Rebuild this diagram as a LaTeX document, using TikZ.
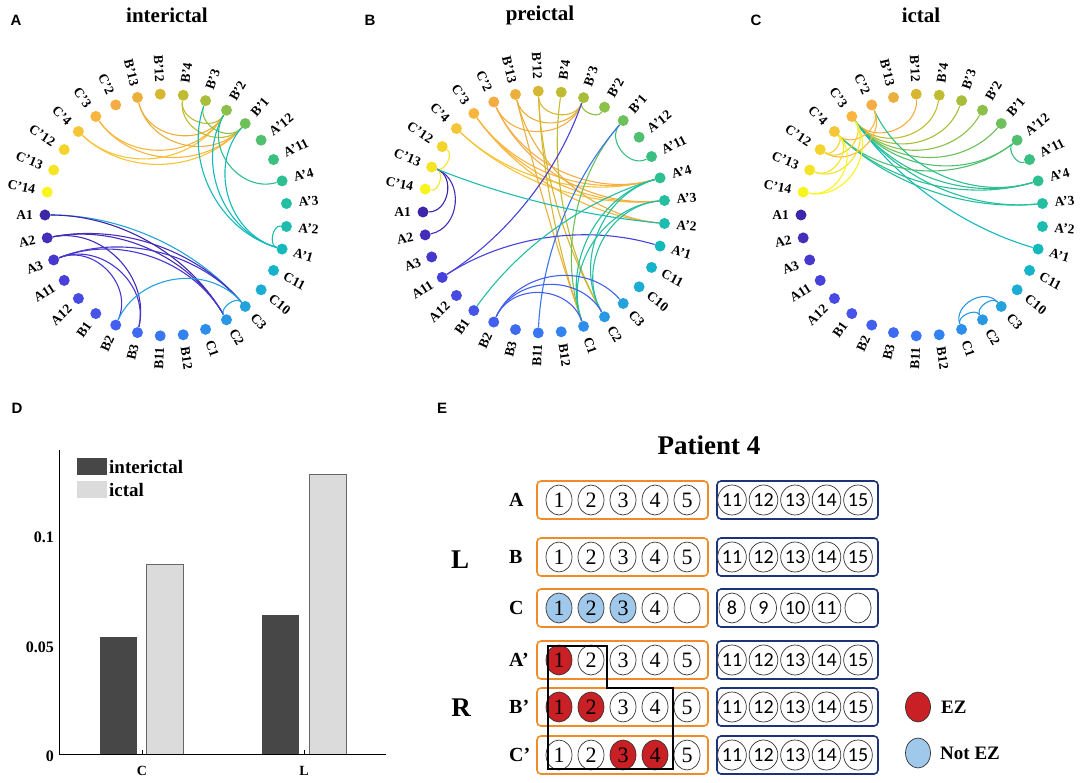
\documentclass[tikz,border=0pt]{standalone}
\usepackage{fontspec}
\setmainfont{Liberation Serif}
\newfontfamily\arialf{Liberation Sans}
\newfontfamily\calib{Carlito}
\usetikzlibrary{calc,backgrounds,shapes.geometric}

% parula-like colours of the 33 contacts
\foreach \k/\r/\g/\b in {0/62/38/168,1/66/46/185,2/70/55/205,3/72/64/218,4/72/74/228,
  5/70/84/234,6/67/95/240,7/62/106/242,8/56/118/242,9/50/130/240,10/45/142/235,
  11/40/152/228,12/35/162/220,13/28/172/212,14/22/180/200,15/20/185/188,16/28/188/175,
  17/36/190/160,18/45/190/145,19/58/191/130,20/80/192/112,21/110/192/90,22/140/192/72,
  23/168/190/58,24/192/188/50,25/215/183/50,26/235/176/60,27/246/172/68,28/248/182/62,
  29/246/196/55,30/242/212/45,31/245/228/38,32/248/244/30}{%
  \edef\tmp{\noexpand\xglobal\noexpand\definecolor{p\k}{RGB}{\r,\g,\b}}\tmp}
\definecolor{ezred}{RGB}{200,32,36}
\definecolor{nezblue}{RGB}{160,200,235}
\definecolor{eorange}{RGB}{240,140,40}
\definecolor{enavy}{RGB}{30,50,120}

% link of the circular graph: panel, contact, contact, colour
\newcommand{\lnk}[4]{%
  \pgfmathtruncatemacro{\lkn}{abs(#2-#3)}%
  \pgfmathtruncatemacro{\lkn}{min(\lkn,33-\lkn)}%
  \pgfmathsetmacro{\lkd}{min(\lkn*360/33,176)}%
  \pgfmathsetmacro{\lkc}{4/3*tan((180-\lkd)/4)*121*tan(\lkd/2)}%
  \draw[lk,p#4] (#1#2) .. controls ($(#1#2)!\lkc pt!(#1o)$) and ($(#1#3)!\lkc pt!(#1o)$) .. (#1#3);}

\begin{document}
\begin{tikzpicture}[x=1pt,y=-1pt,
  dot/.style={circle,inner sep=0pt,minimum size=11pt},
  lab/.style={inner sep=0pt,font=\fontsize{13.5}{14}\selectfont\bfseries},
  lk/.style={line width=1.1pt},
  ttl/.style={font=\fontsize{21}{22}\selectfont\bfseries},
  pnl/.style={font=\fontsize{15}{16}\selectfont\arialf\bfseries},
  tick/.style={inner sep=1pt,font=\fontsize{16}{16}\selectfont\bfseries},
  leg/.style={inner sep=0pt,font=\fontsize{19}{19}\selectfont\bfseries},
  elec/.style={ellipse,draw=black!80,line width=.7pt,fill=white,inner sep=0pt,
    minimum width=26pt,minimum height=30pt,font=\fontsize{22}{22}\selectfont},
  elw/.style={},
  elez/.style={fill=ezred},
  elnot/.style={fill=nezblue},
  obox/.style={draw=eorange,line width=1.6pt,rounded corners=4pt},
  bbox/.style={draw=enavy,line width=1.6pt,rounded corners=4pt}]
\useasboundingbox (0,0) rectangle (1084,783);

% circular graphs
\foreach \p/\cx/\cy in {a/166/215,b/544/212,c/922/215}{
  \coordinate (\p o) at (\cx,\cy);
  \foreach \k/\lab in {0/A1,1/A2,2/A3,3/A11,4/A12,5/B1,6/B2,7/B3,8/B11,9/B12,10/C1,
    11/C2,12/C3,13/C10,14/C11,15/A'1,16/A'2,17/A'3,18/A'4,19/A'11,20/A'12,21/B'1,
    22/B'2,23/B'3,24/B'4,25/B'12,26/B'13,27/C'2,28/C'3,29/C'4,30/C'12,31/C'13,32/C'14}{
    \pgfmathsetmacro\t{180+\k*360/33}
    \node[dot,fill=p\k] (\p\k) at ($(\p o)+(-\t:121)$) {};
    \pgfmathtruncatemacro\rs{(\k>8)&&(\k<25)}
    \ifnum\rs=1
      \node[lab,rotate=\t,anchor=west] at ($(\p o)+(-\t:133)$) {\lab};
    \else
      \node[lab,rotate=\t+180,anchor=east] at ($(\p o)+(-\t:133)$) {\lab};
    \fi
  }
}
\begin{pgfonlayer}{background}
\foreach \i/\j/\c in {29/21/29,29/22/29,28/21/28,28/22/28,26/21/26,26/22/26,24/22/24,
  24/21/24,23/21/22,23/15/15,22/15/15,21/15/15,22/18/18,16/15/16,0/12/12,0/11/0,1/12/1,
  1/11/1,1/7/1,2/6/2,2/7/2,2/11/2,2/12/2,6/12/12,11/12/12}{\lnk{a}{\i}{\j}{\c}}
\foreach \i/\j/\c in {29/18/29,29/17/29,28/18/28,28/17/28,28/16/28,27/17/27,27/18/27,
  26/16/26,26/23/26,27/23/27,25/23/25,25/10/25,25/11/25,24/11/24,26/10/26,31/30/31,
  31/32/31,23/22/22,21/19/19,21/10/21,23/3/3,3/15/3,21/8/8,31/0/0,31/1/1,31/16/16,
  18/5/17,18/10/17,18/11/17,17/10/17,17/11/17,6/10/6,6/11/6,6/12/6}{\lnk{b}{\i}{\j}{\c}}
\foreach \i/\j/\c in {28/25/27,28/24/24,28/23/23,28/22/22,28/21/21,28/20/20,28/18/18,
  28/17/17,28/15/15,29/18/18,29/17/17,29/20/20,27/18/18,27/29/28,27/30/28,28/30/30,
  28/31/31,28/32/32,29/30/30,29/31/31,29/32/32,20/19/19,10/11/11,10/12/11,11/12/11}{\lnk{c}{\i}{\j}{\c}}
\end{pgfonlayer}

\node[pnl] at (16,20) {A};
\node[pnl] at (370,20) {B};
\node[pnl] at (756,20) {C};
\node[ttl] at (167,15) {interictal};
\node[ttl] at (540,15) {preictal};
\node[ttl] at (921,15) {ictal};

% bar chart
\node[pnl] at (17,408) {D};
\fill[black!72] (100,754) rectangle (137,637);
\fill[black!72] (262,754) rectangle (299,615);
\draw[black!60,line width=.6pt,fill=black!14] (146,754) rectangle (183,564);
\draw[black!60,line width=.6pt,fill=black!14] (309,754) rectangle (346,474);
\draw[line width=.8pt] (59,450) -- (59,754) -- (386,754);
\foreach \x in {142,304} \draw (\x,754) -- (\x,750);
\foreach \v/\y in {0/756,0.05/647,0.1/537} \node[tick,anchor=east] at (55,\y) {\v};
\node[tick,font=\fontsize{14}{14}\selectfont\bfseries] at (142,771) {C};
\node[tick,font=\fontsize{14}{14}\selectfont\bfseries] at (304,771) {L};
\fill[black!72] (77,458) rectangle (107,475);
\fill[black!14] (77,481) rectangle (107,498);
\node[leg,anchor=west] at (109,467) {interictal};
\node[leg,anchor=west] at (109,490) {ictal};

% electrode map
\node[pnl] at (442,408) {E};
\node[font=\fontsize{27}{27}\selectfont\bfseries] at (709,445) {Patient 4};
\node[font=\fontsize{27}{27}\selectfont\bfseries] at (460,560) {L};
\node[font=\fontsize{27}{27}\selectfont\bfseries] at (461,708) {R};
\foreach \r/\lab/\y/\ol/\bl in {
  1/A/500/{1/elw,2/elw,3/elw,4/elw,5/elw}/{11,12,13,14,15},
  2/B/557/{1/elw,2/elw,3/elw,4/elw,5/elw}/{11,12,13,14,15},
  3/C/608/{1/elnot,2/elnot,3/elnot,4/elw,{}/elw}/{8,9,10,11,{}},
  4/A'/660/{1/elez,2/elw,3/elw,4/elw,5/elw}/{11,12,13,14,15},
  5/B'/707/{1/elez,2/elez,3/elw,4/elw,5/elw}/{11,12,13,14,15},
  6/C'/755/{1/elw,2/elw,3/elez,4/elez,5/elw}/{11,12,13,14,15}}{
  \node[leg,anchor=west,font=\fontsize{20}{20}\selectfont\bfseries] at (509,\y) {\lab};
  \draw[obox] (537,\y-19) rectangle (708,\y+19);
  \draw[bbox] (717,\y-19) rectangle (878,\y+19);
  \foreach \t/\s [count=\i] in \ol {\node[elec,\s] (o\r-\i) at (527+32*\i,\y) {\t};}
  \foreach \t [count=\i] in \bl {\node[elec,font=\fontsize{20}{20}\selectfont\calib] (b\r-\i) at (700.5+31.5*\i,\y) {\t};}
}
\draw[line width=2pt] (548,646) -- (607,646) -- (607,688) -- (673,688) -- (673,769) -- (548,769) -- cycle;
\node[elec,elez,minimum width=25pt] (kez) at (918,707) {};
\node[elec,elnot,minimum width=25pt] (knot) at (918,753) {};
\node[leg,anchor=west] at (941,707) {EZ};
\node[leg,anchor=west] at (940,753) {Not EZ};
\end{tikzpicture}
\end{document}
